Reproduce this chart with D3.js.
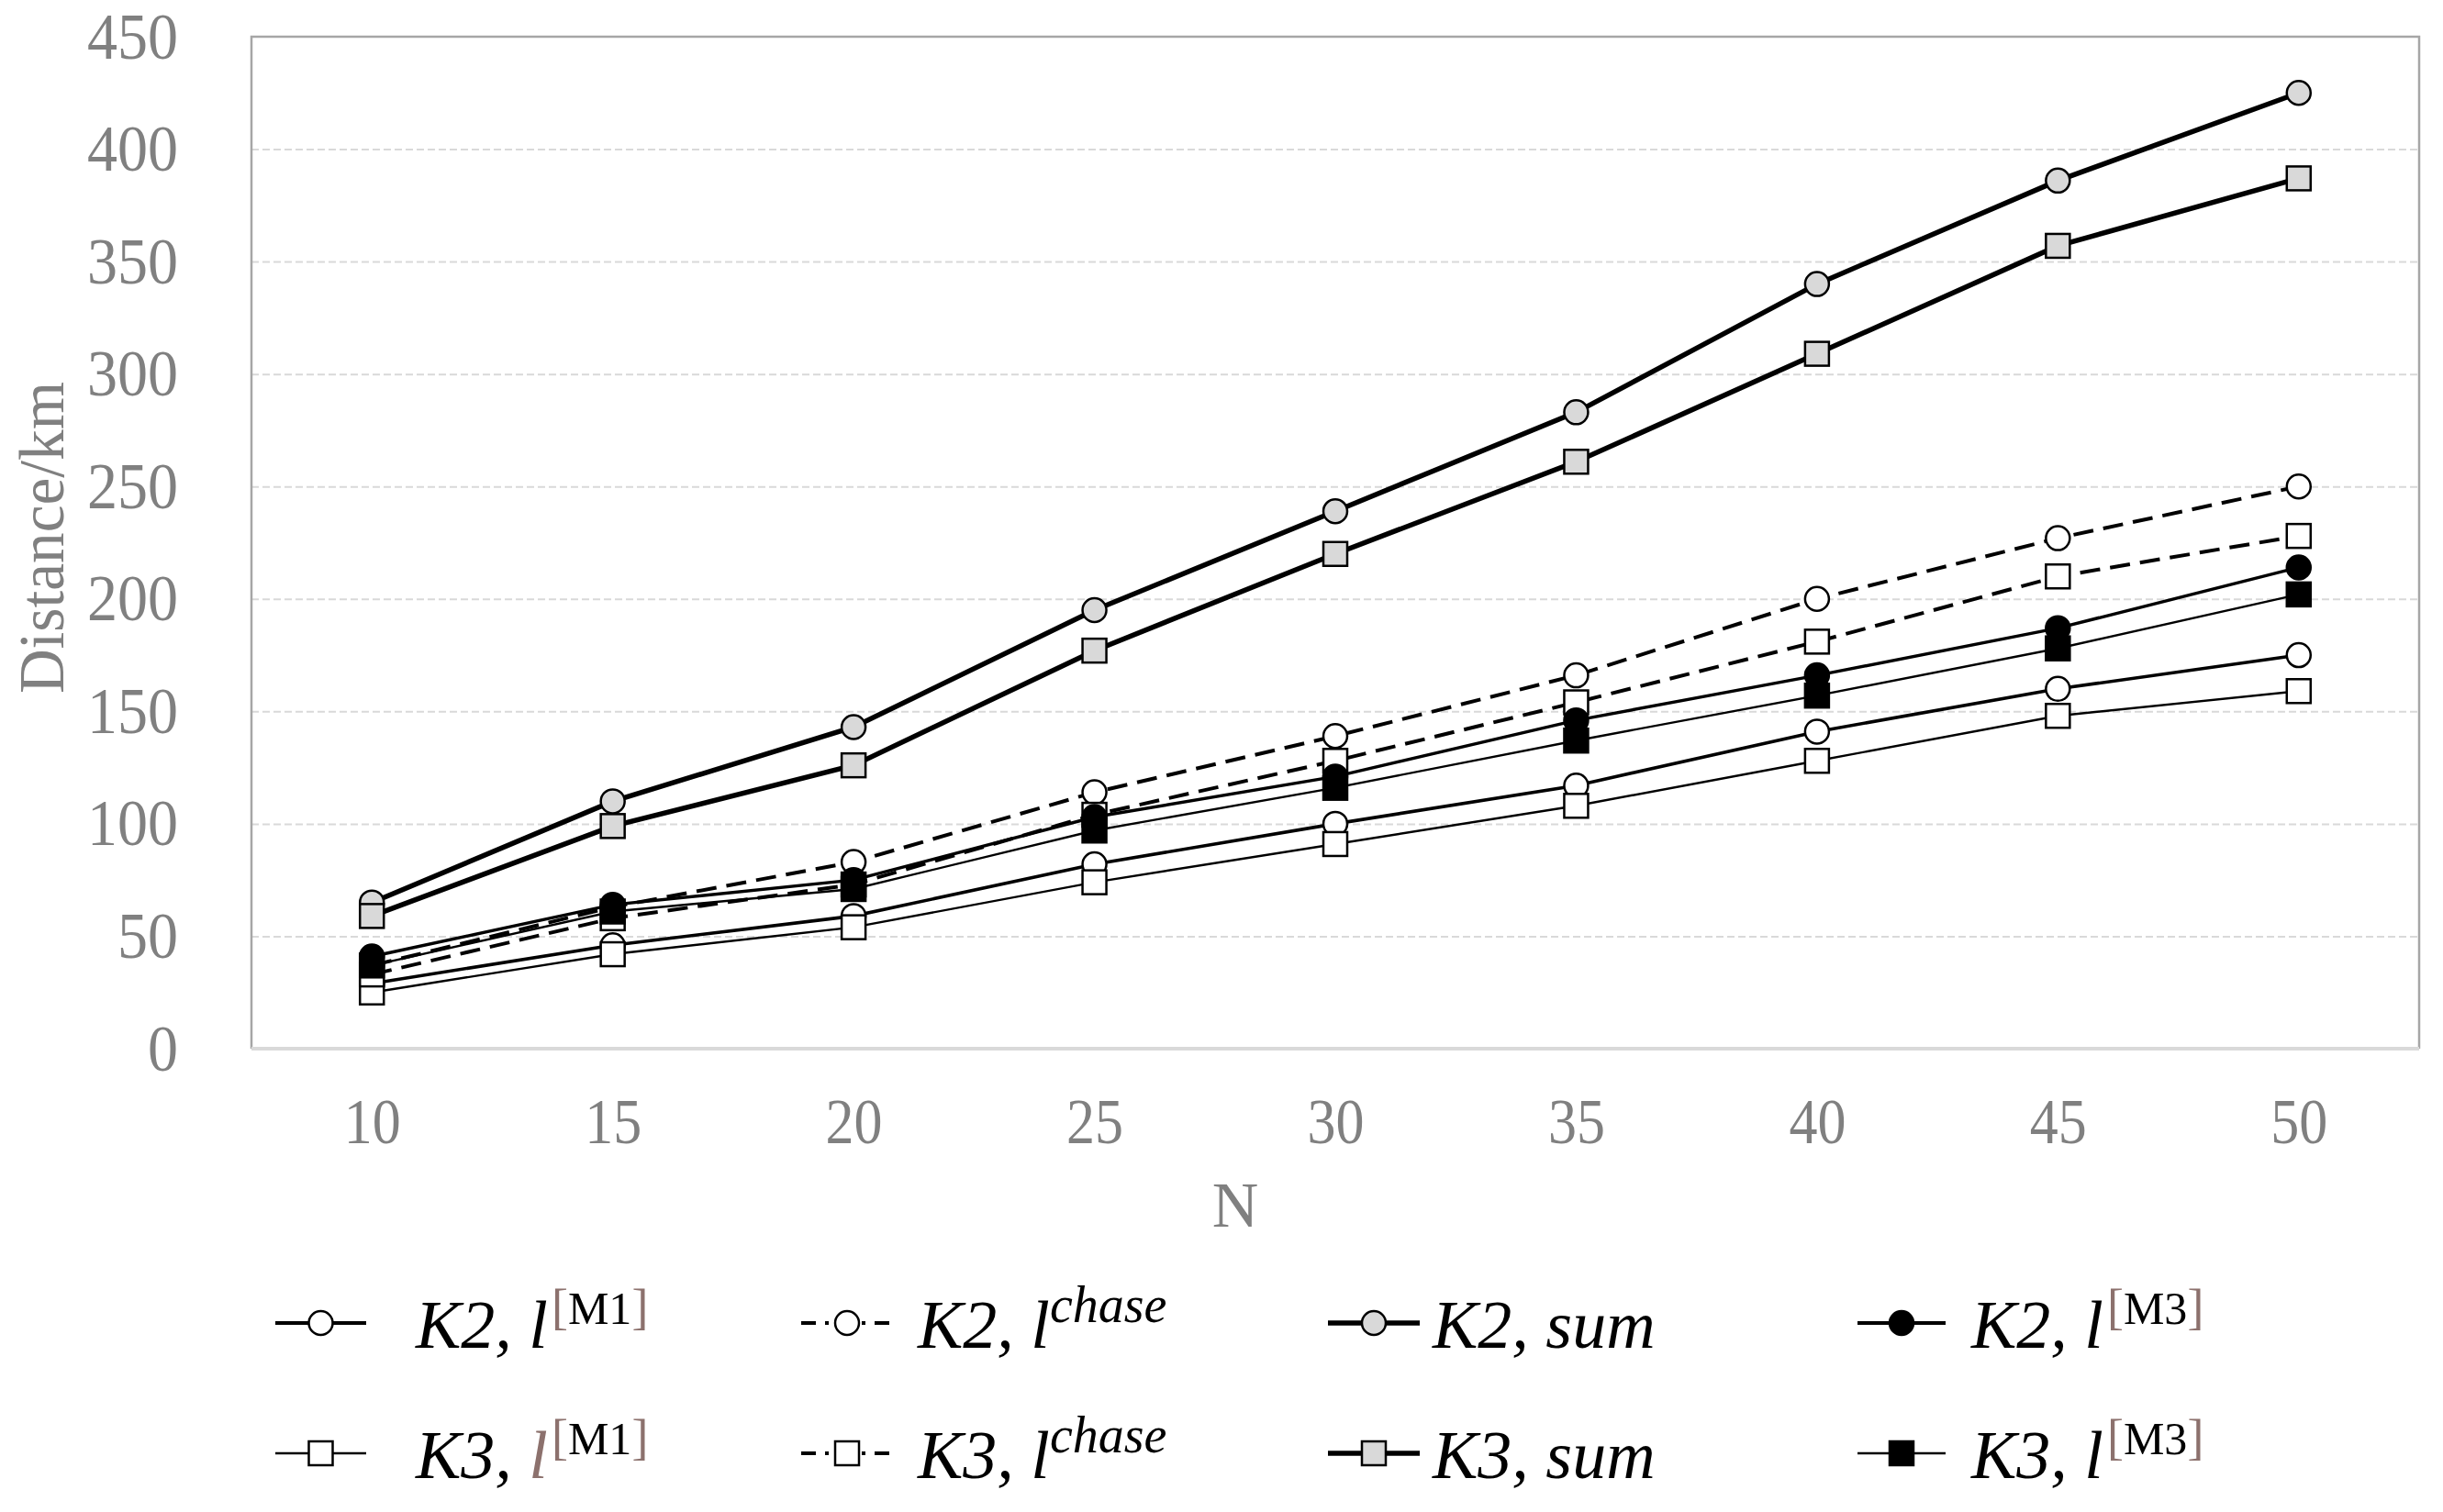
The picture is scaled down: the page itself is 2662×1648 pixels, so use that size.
<!DOCTYPE html>
<html>
<head>
<meta charset="utf-8">
<script src="https://cdn.jsdelivr.net/npm/d3@7"></script>
<style>
  body { margin: 0; background: #fff; }
  svg { display: block; }
</style>
</head>
<body>
<div id="chart"></div>
<script>
// values
var nValues = [10, 15, 20, 25, 30, 35, 40, 45, 50];
var yTicks = [0, 50, 100, 150, 200, 250, 300, 350, 400, 450];

var k2M1    = [29, 46, 59, 82, 100, 117, 141, 160, 175];
var k3M1    = [25, 42, 54, 74, 91, 108, 128, 148, 159];
var k2Chase = [37, 63, 83, 114, 139, 166, 200, 227, 250];
var k3Chase = [33, 58, 73, 104, 128, 154, 181, 210, 228];
var k2Sum   = [65, 110, 143, 195, 239, 283, 340, 386, 425];
var k3Sum   = [59, 99, 126, 177, 220, 261, 309, 357, 387];
var k2M3    = [41, 64, 75, 103, 121, 146, 166, 187, 214];
var k3M3    = [37, 61, 71, 97, 116, 137, 157, 178, 202];

var W = 2662, H = 1648;
var plot = {left: 274, right: 2636, top: 40, bottom: 1143};
var grey = "#808080", brown = "#8c716d";
var serif = "'Liberation Serif', 'Times New Roman', serif";

// series table (drawing order: M3 last so black markers sit on top)
var series = [
  {vals: k2M1,    shape: "circle", fill: "#fff",    width: 3.6, dash: null, key: "K2", sup: "[M1]"},
  {vals: k3M1,    shape: "square", fill: "#fff",    width: 2.4, dash: null, key: "K3", sup: "[M1]", lBrown: true},
  {vals: k2Chase, shape: "circle", fill: "#fff",    width: 4,   dash: "22,11", key: "K2", sup: "chase"},
  {vals: k3Chase, shape: "square", fill: "#fff",    width: 4,   dash: "22,11", key: "K3", sup: "chase"},
  {vals: k2Sum,   shape: "circle", fill: "#d9d9d9", width: 5.5, dash: null, key: "K2", sum: true},
  {vals: k3Sum,   shape: "square", fill: "#d9d9d9", width: 5.5, dash: null, key: "K3", sum: true},
  {vals: k2M3,    shape: "circle", fill: "#000",    width: 3.4, dash: null, key: "K2", sup: "[M3]"},
  {vals: k3M3,    shape: "square", fill: "#000",    width: 2.4, dash: null, key: "K3", sup: "[M3]"}
];

var svg = d3.select("#chart").append("svg")
  .attr("width", W).attr("height", H);
svg.append("rect").attr("width", W).attr("height", H).attr("fill", "#fff");

var x = d3.scalePoint().domain(nValues).range([plot.left, plot.right]).padding(0.5);
var y = d3.scaleLinear().domain([0, 450]).range([plot.bottom, plot.top]);

// gridlines
svg.append("g")
  .attr("transform", "translate(" + plot.left + ",0)")
  .call(d3.axisLeft(y).tickValues(yTicks.slice(1, -1)).tickSize(-(plot.right - plot.left)).tickFormat(""))
  .call(function(g) { g.select(".domain").remove(); })
  .selectAll("line")
  .attr("stroke", "#d9d9d9").attr("stroke-width", 2).attr("stroke-dasharray", "8,4");

// frame
svg.append("path")
  .attr("d", "M" + plot.left + "," + plot.bottom + "V" + plot.top + "H" + plot.right + "V" + plot.bottom)
  .attr("fill", "none").attr("stroke", "#a6a6a6").attr("stroke-width", 2.5);
svg.append("line")
  .attr("x1", plot.left).attr("x2", plot.right)
  .attr("y1", plot.bottom).attr("y2", plot.bottom)
  .attr("stroke", "#d9d9d9").attr("stroke-width", 4);

// y axis labels (tall, narrow Times look)
var yAxis = svg.append("g")
  .attr("transform", "translate(" + plot.left + ",0)")
  .call(d3.axisLeft(y).tickValues(yTicks).tickSize(0).tickPadding(80));
yAxis.select(".domain").remove();
yAxis.selectAll("text")
  .attr("fill", grey).style("font-family", serif).style("font-size", "72px")
  .attr("textLength", function(d) { return String(d).length * 33; })
  .attr("lengthAdjust", "spacingAndGlyphs");

// x axis labels
var xAxis = svg.append("g")
  .attr("transform", "translate(0," + plot.bottom + ")")
  .call(d3.axisBottom(x).tickSize(0).tickPadding(54));
xAxis.select(".domain").remove();
xAxis.selectAll("text")
  .attr("fill", grey).style("font-family", serif).style("font-size", "69px")
  .attr("textLength", function(d) { return String(d).length * 31; })
  .attr("lengthAdjust", "spacingAndGlyphs");

// axis titles
svg.append("text")
  .attr("transform", "translate(69,586) rotate(-90)")
  .attr("text-anchor", "middle")
  .attr("fill", grey)
  .style("font-family", serif).style("font-size", "70px")
  .attr("textLength", 340).attr("lengthAdjust", "spacingAndGlyphs")
  .text("Distance/km");
svg.append("text")
  .attr("x", 1346).attr("y", 1337)
  .attr("text-anchor", "middle")
  .attr("fill", grey)
  .style("font-family", serif).style("font-size", "70px")
  .text("N");

var line = d3.line()
  .x(function(d, i) { return x(nValues[i]); })
  .y(function(d) { return y(d); });

function drawMarker(g, shape, fill, cx, cy, size) {
  if (shape === "circle") {
    g.append("circle").attr("cx", cx).attr("cy", cy).attr("r", size / 2)
      .attr("fill", fill).attr("stroke", "#000").attr("stroke-width", 2.5);
  } else {
    g.append("rect").attr("x", cx - size / 2).attr("y", cy - size / 2)
      .attr("width", size).attr("height", size)
      .attr("fill", fill).attr("stroke", "#000").attr("stroke-width", 2.5);
  }
}

// lines first, then markers per series
series.forEach(function(s) {
  svg.append("path")
    .datum(s.vals)
    .attr("d", line)
    .attr("fill", "none")
    .attr("stroke", "#000")
    .attr("stroke-width", s.width)
    .attr("stroke-dasharray", s.dash);
});
series.forEach(function(s) {
  var g = svg.append("g");
  s.vals.forEach(function(v, i) {
    drawMarker(g, s.shape, s.fill, x(nValues[i]), y(v), 26);
  });
});

// legend: row 1 = K2 series, row 2 = K3 series
var legendOrder = [[0, 2, 4, 6], [1, 3, 5, 7]];
var colLine = [[300, 399], [873, 973], [1447, 1547], [2024, 2120]];
var colText = [453, 1000, 1561, 2148];
var rowY = [1442, 1584];

legendOrder.forEach(function(row, r) {
  row.forEach(function(idx, c) {
    var s = series[idx];
    var g = svg.append("g");
    var cy = rowY[r];
    g.append("line")
      .attr("x1", colLine[c][0]).attr("x2", colLine[c][1])
      .attr("y1", cy).attr("y2", cy)
      .attr("stroke", "#000").attr("stroke-width", s.sum ? 5.5 : (s.width > 3 ? 4 : 2.5))
      .attr("stroke-dasharray", s.dash ? "16,10,4,10" : null);
    drawMarker(g, s.shape, s.fill, (colLine[c][0] + colLine[c][1]) / 2, cy, 26);

    var t = g.append("text")
      .attr("x", colText[c]).attr("y", cy + 27)
      .style("font-family", serif)
      .style("font-size", "74px");
    t.append("tspan").style("font-style", "italic").text(s.key + ", ");
    if (s.sum) {
      t.append("tspan").style("font-style", "italic").text("sum");
    } else {
      t.append("tspan").style("font-style", "italic")
        .attr("fill", s.lBrown ? brown : "#000").text("l");
      if (s.sup === "chase") {
        t.append("tspan").attr("dy", -28).style("font-size", "56px")
          .style("font-style", "italic").text("chase");
      } else {
        t.append("tspan").attr("dy", -26).attr("dx", 4).style("font-size", "54px").attr("fill", brown).text("[");
        t.append("tspan").style("font-size", "50px").text(s.sup.slice(1, 3));
        t.append("tspan").style("font-size", "54px").attr("fill", brown).text("]");
      }
    }
  });
});
</script>
</body>
</html>
